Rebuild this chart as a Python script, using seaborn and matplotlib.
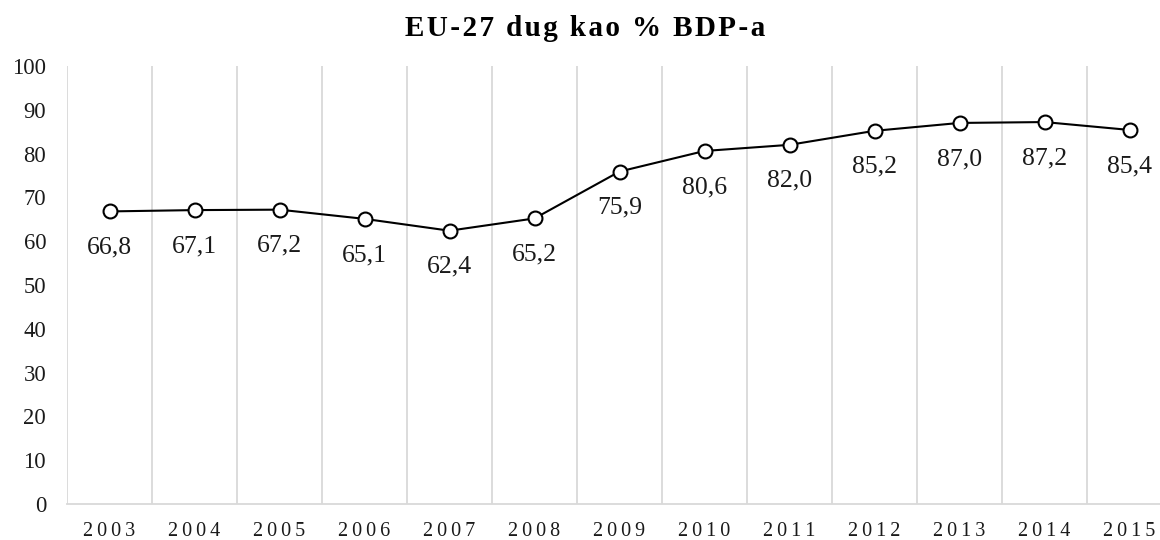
import matplotlib
matplotlib.use("Agg")
import matplotlib.pyplot as plt
import seaborn as sns
import numpy as np
import pandas as pd

years = ["2003", "2004", "2005", "2006", "2007", "2008", "2009",
         "2010", "2011", "2012", "2013", "2014", "2015"]
debt = [66.8, 67.1, 67.2, 65.1, 62.4, 65.2, 75.9, 80.6, 82.0, 85.2, 87.0, 87.2, 85.4]
labels = ["66,8", "67,1", "67,2", "65,1", "62,4", "65,2", "75,9",
          "80,6", "82,0", "85,2", "87,0", "87,2", "85,4"]
title = "EU-27 dug kao % BDP-a"

sns.set_theme(style="white")
plt.rcParams['font.family'] = ['Liberation Serif', 'DejaVu Serif']

df = pd.DataFrame({"year": years, "debt": debt})

fig = plt.figure(figsize=(11.6, 5.4), dpi=100)
ax = fig.add_axes([67/1160, 1 - 504/540, (1172-67)/1160, (504-66)/540])

sns.lineplot(data=df, x="year", y="debt", ax=ax, color="black", linewidth=1.5,
             marker="o", markersize=10, markerfacecolor="white",
             markeredgecolor="black", markeredgewidth=1.5, zorder=3)

ax.set_xlim(-0.5, 12.5)
ax.set_ylim(0, 100)
ax.set_yticks(np.arange(0, 101, 10))
ax.set_yticklabels([str(v) for v in range(0, 101, 10)], fontsize=16.3, color="#1a1a1a")
ax.set_xticks(range(len(years)))
thin = "\u2009"
hair = "\u200a"
ax.set_xticklabels([thin.join(list(y)) for y in years], fontsize=14.5, color="#1a1a1a")
ax.set_xticks(np.arange(-0.5, 13, 1.0), minor=True)
ax.grid(which="minor", axis="x", color="#d9d9d9", linewidth=1.3)
ax.grid(which="major", visible=False)
ax.tick_params(axis="both", which="both", length=0)
ax.tick_params(axis="x", pad=13)
ax.tick_params(axis="y", pad=15)
for s in ["top", "right", "left"]:
    ax.spines[s].set_visible(False)
ax.spines["bottom"].set_color("#d9d9d9")
ax.spines["bottom"].set_linewidth(1.3)
ax.set_xlabel("")
ax.set_ylabel("")

for i, (v, lab) in enumerate(zip(debt, labels)):
    ax.annotate(lab, (i, v), xytext=(0, -26), textcoords="offset points",
                ha="center", va="center", fontsize=18.5, color="#1a1a1a")

fig.text(585/1160, 1 - 29/540, hair.join(list(title)),
         ha="center", va="center", fontsize=21, fontweight="bold", color="black")

fig.savefig("out.png", dpi=100)
